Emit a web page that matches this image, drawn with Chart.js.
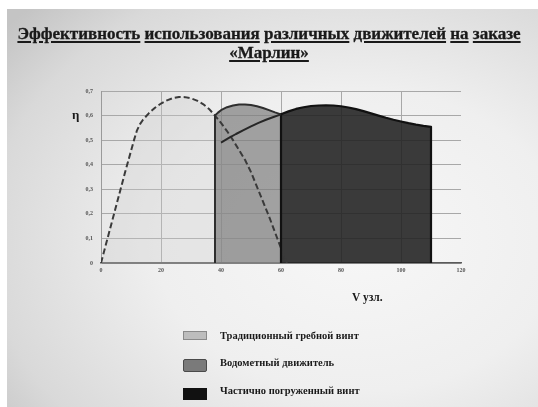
<!DOCTYPE html>
<html lang="ru">
<head>
<meta charset="utf-8">
<title>Эффективность использования различных движителей</title>
<script src="https://cdn.jsdelivr.net/npm/chart.js@4.4.1/dist/chart.umd.min.js"></script>
<style>
  html, body { margin: 0; padding: 0; background: #fff; }
  body { width: 538px; height: 407px; position: relative; overflow: hidden;
         font-family: "Liberation Serif", "DejaVu Serif", serif; color: #1a1a1a; }
  #sheet { position: absolute; left: 7px; top: 9px; width: 531px; height: 398px;
           background: radial-gradient(ellipse 85% 85% at 66% 58%, #f7f7f7 0%, #efefef 45%, #d9d9d9 82%, #c4c4c4 100%); }
  #chart { position: absolute; left: 0; top: 0; }
  .title { position: absolute; left: 0; width: 538px; text-align: center; font-weight: bold;
           font-size: 17px; line-height: 19px; white-space: nowrap; -webkit-text-stroke: 0.3px #1a1a1a; }
  .title u { text-decoration-thickness: 2px; text-underline-offset: 2px; }
  .lbl { position: absolute; font-weight: bold; white-space: nowrap; }
  .key { position: absolute; left: 183px; }
  .key-text { position: absolute; left: 220px; font-weight: bold; font-size: 10.5px; line-height: 12px; white-space: nowrap; }
</style>
</head>
<body>
<div id="sheet"></div>
<canvas id="chart" width="538" height="407"></canvas>

<div class="title" style="top:24px"><u>Эффективность</u> <u>использования</u> <u>различных</u> <u>движителей</u> <u>на</u> <u>заказе</u></div>
<div class="title" style="top:43px"><u>«Марлин»</u></div>

<div class="lbl" style="left:72px; top:107px; font-size:13px;">η</div>
<div class="lbl" style="left:352px; top:291px; font-size:11.5px;">V узл.</div>

<div class="key" style="top:331px; width:22px; height:7px; background:#bdbdbd; border:1px solid #8a8a8a;"></div>
<div class="key-text" style="top:330px">Традиционный гребной винт</div>
<div class="key" style="top:359px; width:22px; height:11px; background:#7a7a7a; border:1px solid #4a4a4a; border-radius:2px;"></div>
<div class="key-text" style="top:357px">Водометный движитель</div>
<div class="key" style="top:388px; width:24px; height:12px; background:#111;"></div>
<div class="key-text" style="top:385px">Частично погруженный винт</div>

<script>
// скорость, узлы / КПД
const propSpeed = [0, 4, 8, 11, 12, 13, 14, 16, 18, 20, 22, 24, 26, 28, 30, 32, 34, 36, 38,
                   40, 42, 44, 46, 48, 50, 52, 54, 56, 58, 60, 62];
const propEff   = [0, 0.184, 0.368, 0.5, 0.54, 0.565, 0.583, 0.61, 0.632, 0.649, 0.662, 0.671, 0.676, 0.675, 0.67, 0.661, 0.647, 0.627, 0.6,
                   0.57, 0.537, 0.5, 0.46, 0.42, 0.37, 0.31, 0.25, 0.19, 0.125, 0.06, 0];

const jetSpeed = [38, 38, 39, 40, 42, 44, 46, 48, 50, 52, 54, 56, 58, 60, 60];
const jetEff   = [0, 0.6, 0.612, 0.622, 0.634, 0.641, 0.645, 0.645, 0.643, 0.638, 0.631, 0.622, 0.613, 0.605, 0];

const partRiseSpeed = [40, 42.5, 45, 47.5, 50, 52.5, 55, 57.5, 60];
const partRiseEff   = [0.49, 0.508, 0.525, 0.541, 0.556, 0.57, 0.583, 0.594, 0.605];

const partSpeed = [60, 60, 62.5, 65, 67.5, 70, 72.5, 75, 77.5, 80, 82.5, 85, 87.5, 90,
                   92.5, 95, 97.5, 100, 102.5, 105, 107.5, 110, 110];
const partEff   = [0, 0.605, 0.617, 0.627, 0.634, 0.639, 0.641, 0.642, 0.641, 0.638, 0.633, 0.626, 0.618, 0.609,
                   0.6, 0.591, 0.583, 0.576, 0.569, 0.563, 0.558, 0.554, 0];

const xTicksMax = 120;
const yTicksMax = 0.7;

function points(xs, ys) {
    return xs.map((x, i) => ({ x: x, y: ys[i] }));
}

// первый набор рисуется поверх остальных
const datasets = [
    {
        label: 'Частично погруженный винт (рост)',
        data: points(partRiseSpeed, partRiseEff),
        borderColor: '#262626', borderWidth: 2, fill: false
    },
    {
        label: 'Частично погруженный винт',
        data: points(partSpeed, partEff),
        borderColor: '#111', borderWidth: 2.2,
        backgroundColor: 'rgba(32,32,32,0.88)', fill: 'origin'
    },
    {
        label: 'Водометный движитель',
        data: points(jetSpeed, jetEff),
        borderColor: '#2e2e2e', borderWidth: 2,
        backgroundColor: 'rgba(125,125,125,0.7)', fill: 'origin'
    },
    {
        label: 'Традиционный гребной винт',
        data: points(propSpeed, propEff),
        borderColor: '#3a3a3a', borderWidth: 2, borderDash: [6, 3],
        backgroundColor: 'rgba(205,205,205,0.32)', fill: 'origin'
    }
];

const tickFont = { family: 'Liberation Serif', size: 6, weight: 'bold' };

new Chart(document.getElementById('chart').getContext('2d'), {
    type: 'line',
    data: { datasets: datasets },
    options: {
        responsive: false,
        animation: false,
        layout: { padding: { left: 79, right: 77, top: 91, bottom: 128 } },
        elements: { point: { radius: 0 }, line: { tension: 0, borderJoinStyle: 'round' } },
        plugins: {
            legend: { display: false },
            tooltip: { enabled: false },
            filler: { drawTime: 'beforeDatasetsDraw' }
        },
        scales: {
            x: {
                type: 'linear', min: 0, max: xTicksMax,
                afterFit: s => { s.height = 16; },
                ticks: { stepSize: 20, color: '#555', font: tickFont, padding: 4 },
                grid: {
                    drawTicks: false,
                    color: c => (c.tick && c.tick.value === xTicksMax) ? 'rgba(0,0,0,0)' : '#a8a8a8'
                },
                border: { color: '#5a5a5a', width: 1.5 }
            },
            y: {
                min: 0, max: yTicksMax,
                afterFit: s => { s.width = 22; },
                ticks: {
                    stepSize: 0.1, color: '#555', font: tickFont, padding: 8,
                    callback: v => v === 0 ? '0' : v.toFixed(1).replace('.', ',')
                },
                grid: { drawTicks: false, color: '#a8a8a8' },
                border: { color: '#9a9a9a', width: 1 }
            }
        }
    }
});
</script>
</body>
</html>
